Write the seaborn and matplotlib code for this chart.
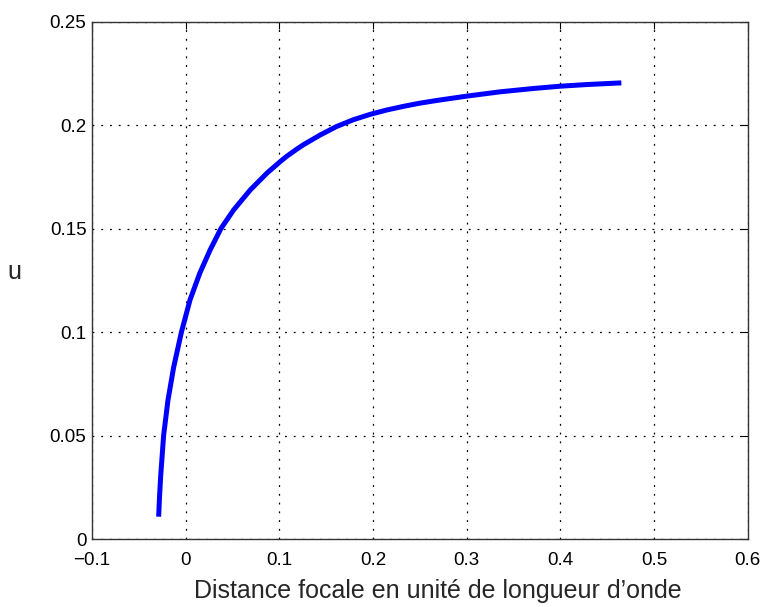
import numpy as np
import pandas as pd
import seaborn as sns
import matplotlib.pyplot as plt

# === Data ===
focal = [-0.0289, -0.0280, -0.0268, -0.0236, -0.019, -0.0129, -0.0046, 0.0046, 0.015,
         0.026, 0.0375, 0.051, 0.069, 0.087, 0.101, 0.1078, 0.119, 0.126, 0.1435, 0.161,
         0.179, 0.197, 0.2147, 0.233, 0.250, 0.268, 0.300, 0.336, 0.3715, 0.400,
         0.4285, 0.465]
u_vals = [0.0108, 0.020, 0.030, 0.050, 0.067, 0.083, 0.100, 0.1156, 0.1285,
          0.1397, 0.150, 0.159, 0.1688, 0.177, 0.1825, 0.1850, 0.1886, 0.1907, 0.1953, 0.1994,
          0.2027, 0.2053, 0.2074, 0.2092, 0.2107, 0.2120, 0.2141, 0.2162, 0.2178, 0.2189,
          0.2197, 0.2205]
x_ticks = [-0.1, 0, 0.1, 0.2, 0.3, 0.4, 0.5, 0.6]
x_labels = ["\u22120.1", "0", "0.1", "0.2", "0.3", "0.4", "0.5", "0.6"]
y_ticks = [0, 0.05, 0.1, 0.15, 0.2, 0.25]
y_labels = ["0", "0.05", "0.1", "0.15", "0.2", "0.25"]

df = pd.DataFrame({"f": focal, "u": u_vals})

# === Style ===
sns.set_style("white")
plt.rcParams["font.family"] = ["Liberation Sans", "DejaVu Sans"]

fig = plt.figure(figsize=(7.67, 6.07), dpi=100)
ax = fig.add_axes([0.12, 0.112, 0.855, 0.852])

sns.lineplot(data=df, x="f", y="u", sort=False, color="#0000ff", linewidth=3.6,
             ax=ax, solid_joinstyle="round", solid_capstyle="butt")

ax.set_xlim(-0.1, 0.6)
ax.set_ylim(0, 0.25)
ax.set_xticks(x_ticks)
ax.set_xticklabels(x_labels)
ax.set_yticks(y_ticks)
ax.set_yticklabels(y_labels)

ax.grid(True, color="black", linestyle=(0, (1.5, 5.5)), linewidth=0.9)
ax.tick_params(direction="in", length=5, width=0.8, top=True, right=True,
               labelsize=13.5, colors="black")
ax.tick_params(axis="x", pad=9)
ax.tick_params(axis="y", pad=4)
for s in ax.spines.values():
    s.set_visible(True)
    s.set_color("#333333")
    s.set_linewidth(1.0)

ax.set_xlabel("Distance focale en unité de longueur d\u2019onde", fontsize=18)
ax.xaxis.set_label_coords(0.527, -0.10)
ax.xaxis.label.set_va("center")
ax.set_ylabel("u", fontsize=18, rotation=0)
ax.yaxis.set_label_coords(-0.118, 0.516)
ax.yaxis.label.set_va("center")

fig.savefig("out.png", dpi=100)
